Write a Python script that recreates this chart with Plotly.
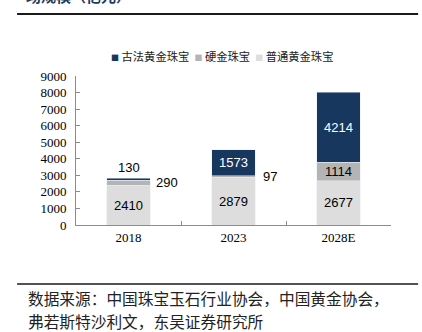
import plotly.graph_objects as go

categories = ["2018", "2023", "2028E"]
putong = [2410, 2879, 2677]      # 普通黄金珠宝
yingjin = [290, 97, 1114]        # 硬金珠宝
gufa = [130, 1573, 4214]         # 古法黄金珠宝
series_names = ["古法黄金珠宝", "硬金珠宝", "普通黄金珠宝"]
yticks = [0, 1000, 2000, 3000, 4000, 5000, 6000, 7000, 8000, 9000]

NAVY = "#18375F"
GRAY = "#B4B4B4"
LIGHT = "#DDDDDD"
LABEL_FONT = "Liberation Sans"
SERIF = "Liberation Serif"
CJK = "Noto Sans CJK SC"

gufa_text = ["", str(gufa[1]), str(gufa[2])]

fig = go.Figure()
fig.add_trace(go.Bar(x=categories, y=putong, name=series_names[2], marker_color=LIGHT,
                     text=[str(v) for v in putong], textposition="inside",
                     insidetextanchor="middle",
                     textfont=dict(color="#000", size=13, family=LABEL_FONT),
                     width=0.41))
fig.add_trace(go.Bar(x=categories, y=yingjin, name=series_names[1], marker_color=GRAY,
                     textposition="none", width=0.41))
fig.add_trace(go.Bar(x=categories, y=gufa, name=series_names[0], marker_color=NAVY,
                     text=gufa_text, textposition="inside", insidetextanchor="middle",
                     textfont=dict(color="#fff", size=13, family=LABEL_FONT),
                     width=0.41))

lab_font = dict(size=13, family=LABEL_FONT, color="#000")
annotations = []
tot0 = putong[0] + yingjin[0] + gufa[0]
annotations.append(dict(x=0, y=tot0, xref="x", yref="y", text=str(gufa[0]),
                        showarrow=False, yanchor="bottom", yshift=1, font=lab_font))
annotations.append(dict(x=0, y=putong[0] + yingjin[0] / 2, xref="x", yref="y",
                        text=str(yingjin[0]), showarrow=False, xanchor="left", xshift=25,
                        font=lab_font))
annotations.append(dict(x=1, y=putong[1] + yingjin[1] / 2, xref="x", yref="y",
                        text=str(yingjin[1]), showarrow=False, xanchor="left", xshift=27,
                        font=lab_font))
annotations.append(dict(x=2, y=putong[2] + yingjin[2] / 2, xref="x", yref="y",
                        text=str(yingjin[2]), showarrow=False, xanchor="center",
                        yanchor="middle", font=lab_font))

# legend built as text
sq = '<span style="color:{c};font-size:8px">■</span>'
legend_text = "  ".join(
    sq.format(c=c) + " " + n for c, n in zip([NAVY, GRAY, LIGHT], series_names)
)
annotations.append(dict(x=0.465, y=1.134, xref="paper", yref="paper", text=legend_text,
                        showarrow=False, xanchor="center", yanchor="middle",
                        font=dict(size=11.3, family=CJK, color="#222")))

# clipped title at top
annotations.append(dict(x=-0.165, y=1.456, xref="paper", yref="paper", text="<b>场规模（亿元）</b>",
                        showarrow=False, xanchor="left", yanchor="bottom",
                        font=dict(size=15, family=CJK, color="#1F3A60")))
# source
annotations.append(dict(x=-0.158, y=-0.49, xref="paper", yref="paper",
                        text="数据来源：中国珠宝玉石行业协会，中国黄金协会，",
                        showarrow=False, xanchor="left", yanchor="middle",
                        font=dict(size=15.7, family=CJK, color="#222")))
annotations.append(dict(x=-0.158, y=-0.651, xref="paper", yref="paper",
                        text="弗若斯特沙利文，东吴证券研究所",
                        showarrow=False, xanchor="left", yanchor="middle",
                        font=dict(size=15.7, family=CJK, color="#222")))

shapes = [
    dict(type="line", xref="paper", yref="paper", x0=-0.187, x1=1.086, y0=1.416, y1=1.416,
         line=dict(color="#1a1a1a", width=2)),
    dict(type="line", xref="paper", yref="paper", x0=-0.187, x1=1.086, y0=-0.396, y1=-0.396,
         line=dict(color="#1a1a1a", width=1.5)),
]

fig.update_layout(
    barmode="stack",
    width=422, height=332,
    margin=dict(l=76, r=31, t=76, b=107),
    paper_bgcolor="white", plot_bgcolor="white",
    showlegend=False,
    annotations=annotations,
    shapes=shapes,
)
fig.update_xaxes(type="category", range=[-0.5, 2.5], showline=True, linecolor="#8c8c8c",
                 linewidth=1, ticks="inside", tickson="boundaries", ticklen=4,
                 tickcolor="#8c8c8c",
                 tickfont=dict(size=13, family=SERIF, color="#000"), showgrid=False)
fig.update_yaxes(range=[0, 9000], tickvals=yticks, showline=True, linecolor="#8c8c8c",
                 linewidth=1, ticks="inside", ticklen=4, tickcolor="#8c8c8c",
                 tickfont=dict(size=13, family=SERIF, color="#000"), showgrid=False,
                 zeroline=False, ticklabelstandoff=6)

fig.write_html("out.html")
